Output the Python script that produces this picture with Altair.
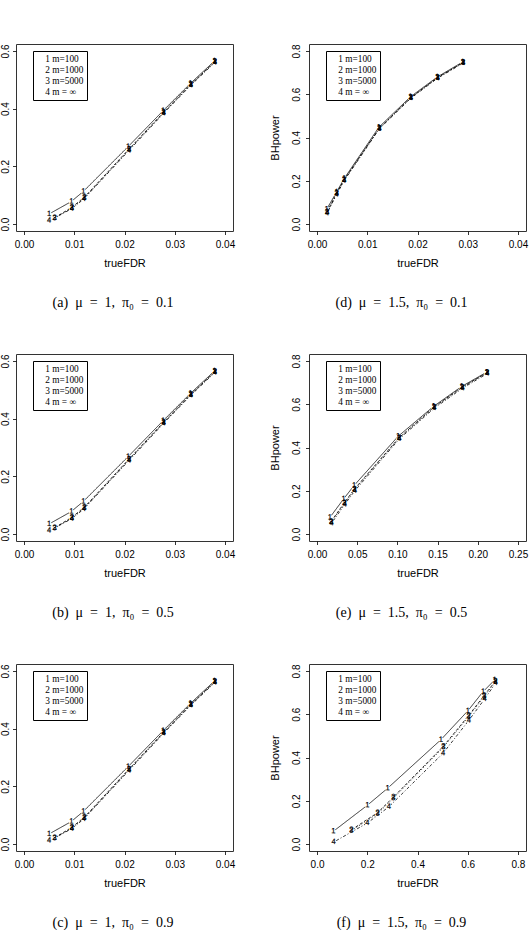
import altair as alt
import pandas as pd

SERIES = ["1", "2", "3", "4"]
LEGEND = ["1 m=100", "2 m=1000", "3 m=5000", "4 m = ∞"]

# Panels (a), (b), (c): mu = 1
A_X = [[0.0050, 0.0094, 0.0118, 0.0207, 0.0277, 0.0331, 0.0379],
       [0.0061, 0.0095, 0.0120, 0.0209, 0.0278, 0.0332, 0.0380],
       [0.0061, 0.0095, 0.0120, 0.0209, 0.0278, 0.0332, 0.0380],
       [0.0050, 0.0095, 0.0119, 0.0209, 0.0278, 0.0332, 0.0380]]
A_Y = [[0.035, 0.078, 0.113, 0.268, 0.393, 0.487, 0.565],
       [0.022, 0.058, 0.093, 0.260, 0.388, 0.484, 0.563],
       [0.020, 0.056, 0.090, 0.258, 0.386, 0.483, 0.562],
       [0.012, 0.053, 0.087, 0.255, 0.384, 0.481, 0.560]]

# Panel (d): mu = 1.5, pi0 = 0.1
D_X = [[0.0019, 0.0039, 0.0054, 0.0123, 0.0186, 0.0239, 0.0290],
       [0.0020, 0.0039, 0.0054, 0.0124, 0.0187, 0.0240, 0.0291],
       [0.0020, 0.0039, 0.0054, 0.0124, 0.0187, 0.0240, 0.0291],
       [0.0020, 0.0039, 0.0054, 0.0124, 0.0187, 0.0240, 0.0291]]
D_Y = [[0.068, 0.148, 0.210, 0.447, 0.588, 0.679, 0.749],
       [0.057, 0.143, 0.205, 0.443, 0.585, 0.677, 0.747],
       [0.054, 0.141, 0.203, 0.442, 0.584, 0.676, 0.746],
       [0.050, 0.137, 0.200, 0.440, 0.582, 0.674, 0.744]]

# Panel (e): mu = 1.5, pi0 = 0.5
E_X = [[0.0160, 0.0330, 0.0460, 0.1010, 0.1450, 0.1800, 0.2110],
       [0.0175, 0.0340, 0.0465, 0.1020, 0.1455, 0.1805, 0.2115],
       [0.0175, 0.0340, 0.0465, 0.1020, 0.1455, 0.1805, 0.2115],
       [0.0180, 0.0345, 0.0470, 0.1025, 0.1460, 0.1810, 0.2120]]
E_Y = [[0.077, 0.162, 0.224, 0.452, 0.590, 0.682, 0.748],
       [0.058, 0.145, 0.208, 0.445, 0.587, 0.679, 0.746],
       [0.055, 0.142, 0.205, 0.443, 0.585, 0.677, 0.745],
       [0.050, 0.137, 0.200, 0.440, 0.582, 0.674, 0.742]]

# Panel (f): mu = 1.5, pi0 = 0.9
F_X = [[0.065, 0.200, 0.281, 0.493, 0.600, 0.661, 0.707],
       [0.137, 0.241, 0.304, 0.503, 0.603, 0.665, 0.710],
       [0.137, 0.241, 0.304, 0.503, 0.603, 0.665, 0.710],
       [0.066, 0.200, 0.286, 0.502, 0.604, 0.667, 0.711]]
F_Y = [[0.059, 0.179, 0.258, 0.482, 0.615, 0.704, 0.758],
       [0.066, 0.145, 0.217, 0.452, 0.593, 0.686, 0.753],
       [0.062, 0.140, 0.212, 0.447, 0.588, 0.681, 0.750],
       [0.009, 0.097, 0.172, 0.420, 0.571, 0.670, 0.744]]

EQ = "\u2002=\u2002"
EN = "\u2002"
CAPTIONS = [f"(a){EN}μ{EQ}1,{EN}π₀{EQ}0.1", f"(d){EN}μ{EQ}1.5,{EN}π₀{EQ}0.1",
            f"(b){EN}μ{EQ}1,{EN}π₀{EQ}0.5", f"(e){EN}μ{EQ}1.5,{EN}π₀{EQ}0.5",
            f"(c){EN}μ{EQ}1,{EN}π₀{EQ}0.9", f"(f){EN}μ{EQ}1.5,{EN}π₀{EQ}0.9"]

X_TICKS_SMALL = [0.00, 0.01, 0.02, 0.03, 0.04]
X_TICKS_E = [0.00, 0.05, 0.10, 0.15, 0.20, 0.25]
X_TICKS_F = [0.0, 0.2, 0.4, 0.6, 0.8]
Y_TICKS_A = [0.0, 0.1, 0.2, 0.3, 0.4, 0.5, 0.6]
Y_TICKS_D = [0.0, 0.2, 0.4, 0.6, 0.8]

SANS = "Liberation Sans"
SERIF = "Liberation Serif"


def ext(lo, hi):
    d = (hi - lo) * 0.04
    return [lo - d, hi + d]


def panel(xs, ys, xlim, ylim, xticks, yticks, xfmt, caption, right):
    rows = []
    for s in range(4):
        for i in range(len(xs[s])):
            rows.append({"x": xs[s][i], "y": ys[s][i], "s": SERIES[s],
                         "lab": LEGEND[s], "i": i})
    df = pd.DataFrame(rows)
    xenc = alt.X("x:Q", scale=alt.Scale(domain=ext(*xlim), nice=False, zero=False),
                 axis=alt.Axis(values=xticks, format=xfmt, title="trueFDR",
                               labelPadding=5, titlePadding=8))
    yax = alt.Axis(values=yticks, format=".1f", labelAngle=270, labelAlign="center",
                   labelBaseline="bottom", labelPadding=(4 if right else 2),
                   titlePadding=11, title=("BHpower" if right else None))
    yenc = alt.Y("y:Q", scale=alt.Scale(domain=ext(*ylim), nice=False, zero=False),
                 axis=yax)
    base = alt.Chart(df)
    lines = base.mark_line(color="black", strokeWidth=0.8).encode(
        x=xenc, y=yenc, detail="s:N", order="i:Q",
        strokeDash=alt.StrokeDash("s:N", scale=alt.Scale(
            domain=SERIES, range=[[1, 0], [3, 2], [1, 2], [1, 2, 3, 2]]), legend=None))
    gaps = base.mark_circle(color="white", opacity=1, size=26).encode(x="x:Q", y="y:Q")
    labels = base.mark_text(font=SANS, fontSize=7.5, fill="black", stroke="black",
                            strokeWidth=0.2, angle=0.5).encode(
        x="x:Q", y="y:Q", text="s:N",
        opacity=alt.Opacity("lab:N", scale=alt.Scale(domain=LEGEND, range=[1] * 4),
                            legend=alt.Legend(title=None, orient="none", legendX=17, legendY=7,
                                              strokeColor="black", fillColor="white",
                                              padding=3, labelFont=SERIF, labelFontSize=9.3,
                                              labelColor="black",
                                              symbolSize=0, symbolOpacity=0,
                                              symbolStrokeWidth=0, labelOffset=0,
                                              rowPadding=1)))
    return alt.layer(lines, gaps, labels).properties(
        width=217, height=187,
        title=alt.TitleParams(caption, orient="bottom", font=SERIF, fontSize=14,
                              fontWeight="normal", color="black", offset=27,
                              anchor="middle", dx=(-16 if right else -11.5)))


pa = panel(A_X, A_Y, (0, 0.04), (0, 0.6), X_TICKS_SMALL, Y_TICKS_A, ".2f", CAPTIONS[0], False)
pd_ = panel(D_X, D_Y, (0, 0.04), (0, 0.8), X_TICKS_SMALL, Y_TICKS_D, ".2f", CAPTIONS[1], True)
pb = panel(A_X, A_Y, (0, 0.04), (0, 0.6), X_TICKS_SMALL, Y_TICKS_A, ".2f", CAPTIONS[2], False)
pe = panel(E_X, E_Y, (0, 0.25), (0, 0.8), X_TICKS_E, Y_TICKS_D, ".2f", CAPTIONS[3], True)
pc = panel(A_X, A_Y, (0, 0.04), (0, 0.6), X_TICKS_SMALL, Y_TICKS_A, ".2f", CAPTIONS[4], False)
pf = panel(F_X, F_Y, (0, 0.8), (0, 0.8), X_TICKS_F, Y_TICKS_D, ".1f", CAPTIONS[5], True)


def row(l, r):
    return alt.hconcat(l, r, spacing=33).resolve_scale(opacity="independent",
                                                        strokeDash="independent")


chart = alt.vconcat(row(pa, pd_), row(pb, pe), row(pc, pf), spacing=43).resolve_scale(
    opacity="independent", strokeDash="independent"
).properties(
    padding={"left": 0, "top": 43, "right": 0, "bottom": 0}
).configure_view(
    stroke="#333", strokeWidth=1
).configure_axis(
    domain=False, grid=False, tickColor="black", tickSize=3.5, tickWidth=0.8,
    labelFont=SANS, labelFontSize=10, labelColor="black",
    titleFont=SANS, titleFontSize=11, titleFontWeight="normal", titleColor="black"
)

chart.save("out.html", embed_options={"renderer": "svg", "actions": False})
